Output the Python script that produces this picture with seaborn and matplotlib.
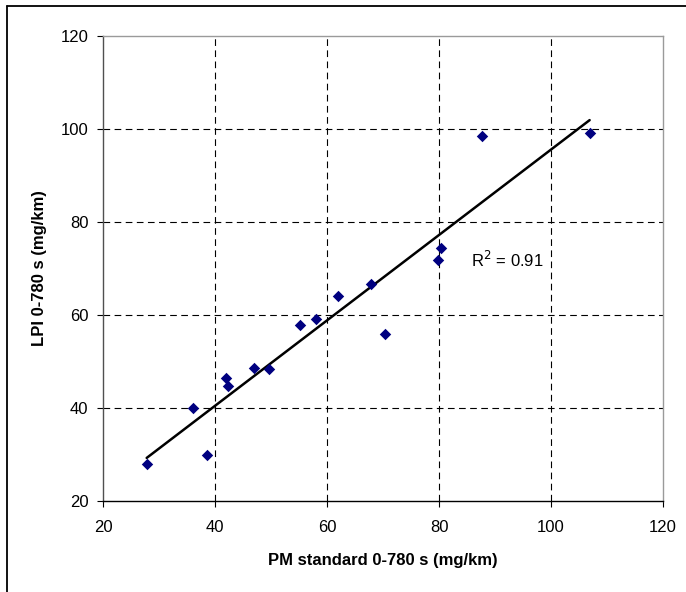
import numpy as np
import pandas as pd
import matplotlib
matplotlib.use("Agg")
import matplotlib.pyplot as plt
import seaborn as sns
from matplotlib.lines import Line2D

# Data
pm_standard = [27.8, 36.1, 38.6, 41.9, 42.4, 47.0, 49.6, 55.2, 58.0, 62.0, 67.9, 70.4, 79.9, 80.4, 87.6, 106.9]
lpi = [28.1, 40.0, 29.9, 46.5, 44.7, 48.7, 48.5, 57.9, 59.1, 64.1, 66.6, 56.0, 71.9, 74.3, 98.5, 99.2]
x_ticks = [20, 40, 60, 80, 100, 120]
y_ticks = [20, 40, 60, 80, 100, 120]
r2_text = "R$^2$ = 0.91"
x_label = "PM standard 0-780 s (mg/km)"
y_label = "LPI 0-780 s (mg/km)"

df = pd.DataFrame({"pm": pm_standard, "lpi": lpi})

sns.set_style("white")
plt.rcParams["font.family"] = ["Liberation Sans", "DejaVu Sans"]
plt.rcParams["text.color"] = "black"
plt.rcParams["axes.labelcolor"] = "black"
plt.rcParams["xtick.color"] = "black"
plt.rcParams["ytick.color"] = "black"

fig = plt.figure(figsize=(6.86, 5.92), dpi=100)
ax = fig.add_axes([103 / 686, 1 - 501.3 / 592, (663 - 103) / 686, (501.3 - 35.7) / 592])

# Grid
for v in x_ticks[1:-1]:
    ax.axvline(v, color="black", lw=0.8, ls=(0, (6, 4)), zorder=1)
for v in y_ticks[1:-1]:
    ax.axhline(v, color="black", lw=0.8, ls=(0, (6, 4)), zorder=1)

sns.regplot(data=df, x="pm", y="lpi", ax=ax, ci=None, scatter=False,
            line_kws=dict(color="black", lw=1.8, zorder=3))
sns.scatterplot(data=df, x="pm", y="lpi", ax=ax, marker="D", s=34,
                color="#000080", linewidth=0, zorder=4)

ax.set_xlim(20, 120)
ax.set_ylim(20, 120)
ax.set_xticks(x_ticks)
ax.set_yticks(y_ticks)
ax.tick_params(axis="both", which="major", direction="out", length=4.5,
               width=0.8, color="black", labelcolor="black", labelsize=12,
               left=True, bottom=True)
ax.tick_params(axis="x", pad=9)
ax.tick_params(axis="y", pad=6)

ax.set_xlabel(x_label, fontsize=12, fontweight="bold", labelpad=13, color="black")
ax.set_ylabel(y_label, fontsize=12, fontweight="bold", labelpad=10, color="black")

ax.spines["top"].set_color("#9a9a9a")
ax.spines["right"].set_color("#9a9a9a")
ax.spines["left"].set_color("#505050")
ax.spines["bottom"].set_color("black")
for s in ax.spines.values():
    s.set_linewidth(1.0)

ax.text(85.7, 71.8, r2_text, fontsize=12, ha="left", va="center", zorder=5, color="black")

# outer figure frame (left and top edges visible)
fig.add_artist(Line2D([7 / 686, 7 / 686], [0, 1 - 6 / 592], transform=fig.transFigure,
                      color="black", lw=1.3))
fig.add_artist(Line2D([7 / 686, 1], [1 - 6 / 592, 1 - 6 / 592], transform=fig.transFigure,
                      color="black", lw=1.3))

fig.savefig("out.png", dpi=100)
